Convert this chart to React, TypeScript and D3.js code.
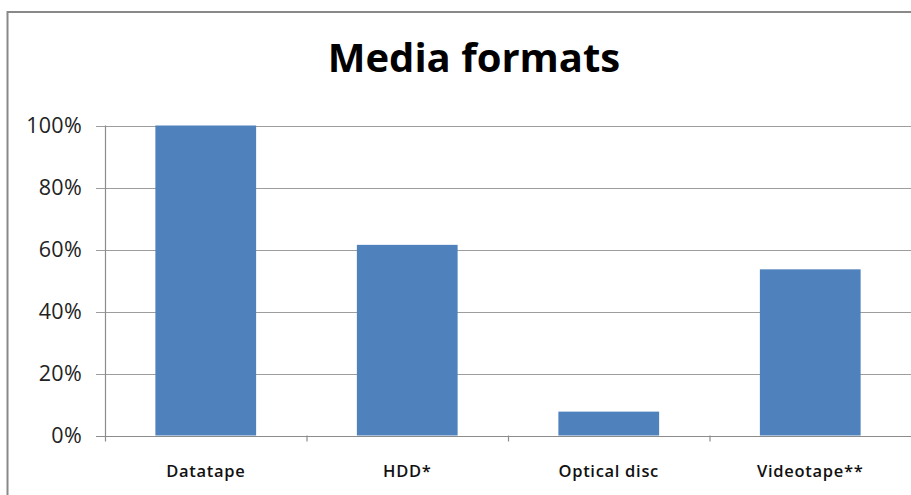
import React from "react";
import * as d3 from "d3";

const categories = ["Datatape", "HDD*", "Optical disc", "Videotape**"];
const shares = [1.0, 0.615, 0.077, 0.536];
const yTicks = [0, 0.2, 0.4, 0.6, 0.8, 1.0];
const title = "Media formats";

const W = 911;
const H = 495;
const margin = { left: 105, right: 0, top: 125.5, bottom: 59.5 };

export default function App() {
  const x = d3
    .scaleBand<string>()
    .domain(categories)
    .range([margin.left, W - margin.right])
    .paddingInner(0.5)
    .paddingOuter(0.25);
  const bounds = d3
    .scaleBand<string>()
    .domain(categories)
    .range([margin.left, W - margin.right]);
  const y = d3
    .scaleLinear()
    .domain([0, 1])
    .range([H - margin.bottom, margin.top]);
  const fmt = d3.format(".0%");
  const y0 = y(0);

  return (
    <svg
      width={W}
      height={H}
      style={{ position: "absolute", left: 0, top: 0, background: "#fff" }}
    >
      {/* chart frame */}
      <rect x={7.5} y={12} width={W + 20} height={H + 20} fill="#fff" stroke="#898989" strokeWidth={2} />

      <text
        x={474}
        y={72}
        textAnchor="middle"
        fontFamily="Open Sans, sans-serif"
        fontWeight={700}
        fontSize={40}
        fill="#000"
      >
        {title}
      </text>

      {/* horizontal gridlines and value ticks */}
      {yTicks.map((t) => (
        <g key={t}>
          <line x1={96} x2={W} y1={Math.round(y(t)) + 0.5} y2={Math.round(y(t)) + 0.5} stroke="#9d9d9d" strokeWidth={1.2} />
          <text
            x={82}
            y={y(t) + 7.5}
            textAnchor="end"
            fontFamily="Open Sans, sans-serif"
            fontSize={21.5}
            letterSpacing={0.3}
            fill="#222"
          >
            {fmt(t)}
          </text>
        </g>
      ))}

      {/* bars */}
      {categories.map((c, i) => (
        <rect
          key={c}
          x={x(c)}
          y={y(shares[i])}
          width={x.bandwidth()}
          height={y0 - y(shares[i])}
          fill="#4f81bd"
        />
      ))}

      {/* axes */}
      <line x1={105.5} x2={105.5} y1={margin.top} y2={y0 + 6} stroke="#8c8c8c" strokeWidth={1.2} />
      <line x1={96} x2={W} y1={Math.round(y0) + 0.5} y2={Math.round(y0) + 0.5} stroke="#8c8c8c" strokeWidth={1.2} />
      {categories.slice(1).map((c) => (
        <line key={c} x1={bounds(c)! + 0.5} x2={bounds(c)! + 0.5} y1={y0} y2={y0 + 6} stroke="#8c8c8c" strokeWidth={1.2} />
      ))}

      {/* category labels */}
      {categories.map((c) => (
        <text
          key={c}
          x={x(c)! + x.bandwidth() / 2}
          y={477}
          textAnchor="middle"
          fontFamily="Open Sans, sans-serif"
          fontWeight={600}
          fontSize={16.5}
          letterSpacing={0.7}
          fill="#111"
        >
          {c}
        </text>
      ))}
    </svg>
  );
}
